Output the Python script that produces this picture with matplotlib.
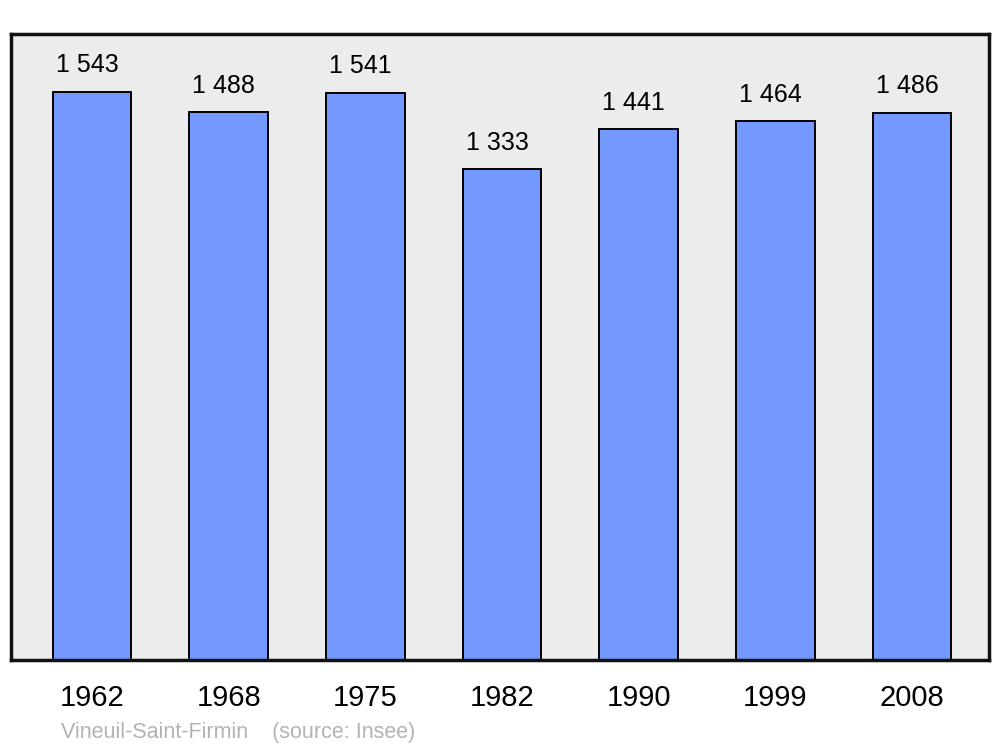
import matplotlib
matplotlib.use("Agg")
from matplotlib import pyplot as plt

years = ["1962", "1968", "1975", "1982", "1990", "1999", "2008"]
population = [1543, 1488, 1541, 1333, 1441, 1464, 1486]
value_labels = ["1 543", "1 488", "1 541", "1 333", "1 441", "1 464", "1 486"]

plt.rcParams['font.family'] = ['Liberation Sans', 'DejaVu Sans']

fig = plt.figure(figsize=(10, 7.47), dpi=100)
ax = fig.add_axes([0.011, 0.1165, 0.978, 0.838])
ax.set_facecolor("#ececec")

x = list(range(len(years)))
ax.bar(x, population, width=0.575, color="#7399ff", edgecolor="black", linewidth=1.4, zorder=2)

for xi, v, lab in zip(x, population, value_labels):
    ax.annotate(lab, (xi, v), xytext=(-3.5, 19), textcoords="offset points",
                ha="center", va="center", fontsize=18)

ax.set_xlim(-0.593, 6.563)
ax.set_ylim(0, 1700)
ax.set_yticks([])
ax.set_xticks(x)
ax.set_xticklabels(years, fontsize=21)
ax.tick_params(axis="x", length=0, pad=17)
for s in ax.spines.values():
    s.set_linewidth(2.5)
    s.set_color("#111111")

fig.text(0.061, 1 - 732.5 / 747, "Vineuil-Saint-Firmin    (source: Insee)",
         color="#b3b3b3", fontsize=15.5, va="center", ha="left")

fig.savefig("out.png", dpi=100)
